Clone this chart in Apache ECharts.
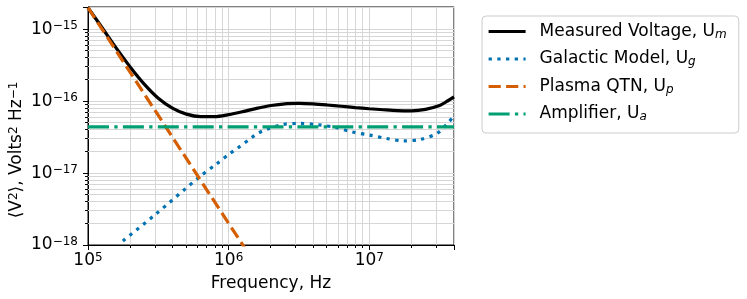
<!DOCTYPE html>
<html><head><meta charset="utf-8">
<script src="https://cdn.jsdelivr.net/npm/echarts@6/dist/echarts.min.js"></script>
<style>html,body{margin:0;padding:0;background:#fff}#c{width:747px;height:299px}</style>
</head><body><div id="c"></div>
<script>
const FONT = 'DejaVu Sans';
const Y_UNIT = 1e-18;           // values are plotted in units of 1e-18 V^2/Hz
const X_MIN = 1e5, X_MAX = 4e7;
const Y_MIN = 1e-18, Y_MAX = 2.04e-15;

// Measured Voltage, U_m
const measuredFreq = [1e5, 1.26e5, 1.58e5, 2e5, 2.51e5, 3.16e5, 3.98e5, 5.01e5, 6.31e5, 7.94e5, 1e6, 1.26e6, 1.58e6, 2e6, 2.51e6, 3.16e6, 3.98e6, 5.01e6, 6.31e6, 7.94e6, 1e7, 1.26e7, 1.58e7, 2e7, 2.51e7, 3.16e7, 3.55e7, 4e7];
const measuredVal = [2.0e-15, 1.05e-15, 5.55e-16, 2.97e-16, 1.73e-16, 1.1e-16, 8.0e-17, 6.6e-17, 6.1e-17, 6.1e-17, 6.5e-17, 7.15e-17, 7.95e-17, 8.7e-17, 9.2e-17, 9.3e-17, 9.15e-17, 8.85e-17, 8.5e-17, 8.15e-17, 7.85e-17, 7.6e-17, 7.4e-17, 7.35e-17, 7.7e-17, 8.7e-17, 9.9e-17, 1.15e-16];

// Galactic Model, U_g
const galacticFreq = [1.77e5, 3e5, 6.2e5, 8.2e5, 1.02e6, 1.15e6, 1.45e6, 1.64e6, 1.86e6, 2.43e6, 3.2e6, 4.3e6, 5.7e6, 7.5e6, 1.01e7, 1.33e7, 1.75e7, 2.3e7, 3.03e7, 3.7e7, 4e7];
const galacticVal = [1.14e-18, 2.64e-18, 8.85e-18, 1.34e-17, 1.87e-17, 2.2e-17, 3.09e-17, 3.63e-17, 4.05e-17, 4.75e-17, 4.9e-17, 4.7e-17, 4.32e-17, 3.75e-17, 3.37e-17, 3.03e-17, 2.8e-17, 2.94e-17, 3.56e-17, 5.2e-17, 6.4e-17];

// Plasma QTN, U_p
const plasmaFreq = [1e5, 1.3e6];
const plasmaVal = [2.0e-15, 9.1e-19];

// Amplifier, U_a
const ampFreq = [1e5, 4e7];
const ampVal = [4.4e-17, 4.4e-17];

// minor tick positions
const xMinorTicks = [2e5, 3e5, 4e5, 5e5, 6e5, 7e5, 8e5, 9e5, 2e6, 3e6, 4e6, 5e6, 6e6, 7e6, 8e6, 9e6, 2e7, 3e7, 4e7];
const yMinorTicks = [2e-18, 3e-18, 4e-18, 5e-18, 6e-18, 7e-18, 8e-18, 9e-18, 2e-17, 3e-17, 4e-17, 5e-17, 6e-17, 7e-17, 8e-17, 9e-17, 2e-16, 3e-16, 4e-16, 5e-16, 6e-16, 7e-16, 8e-16, 9e-16, 2e-15];

const seriesNames = ['Measured Voltage, U', 'Galactic Model, U', 'Plasma QTN, U', 'Amplifier, U'];
const seriesSubs = ['m', 'g', 'p', 'a'];
const colors = ['#000000', '#0072B2', '#D55E00', '#009E73'];

const GRID = '#d6d6d6';
const LW = 3.2;

function pairs(fs, vs) { return fs.map((f, i) => [f, vs[i] / Y_UNIT]); }

function powLabel(v, offset) {
  const e = Math.log10(v);
  const r = Math.round(e);
  if (Math.abs(e - r) > 1e-6) return '';
  const exp = r + offset;
  return '{b|10}{s|' + (exp < 0 ? '\u2212' + (-exp) : String(exp)) + '}';
}
const tickRich = {
  b: { fontFamily: FONT, fontSize: 17, lineHeight: 18, color: '#000' },
  s: { fontFamily: FONT, fontSize: 12, lineHeight: 10, verticalAlign: 'top', color: '#000' }
};

function snap(v) { return Math.round(v - 0.5) + 0.5; }

function renderMinorX(params, api) {
  const v = api.value(0);
  const top = api.coord([v, Y_MAX / Y_UNIT]);
  const bot = api.coord([v, Y_MIN / Y_UNIT]);
  const x = snap(top[0]);
  return { type: 'group', children: [
    { type: 'line', shape: { x1: x, y1: top[1], x2: x, y2: bot[1] }, style: { stroke: GRID, lineWidth: 1 } },
    { type: 'line', shape: { x1: x, y1: bot[1], x2: x, y2: bot[1] + 3 }, style: { stroke: '#000', lineWidth: 1 } }
  ]};
}
function renderMinorY(params, api) {
  const v = api.value(1);
  const l = api.coord([X_MIN, v]);
  const r = api.coord([X_MAX, v]);
  const y = snap(l[1]);
  return { type: 'group', children: [
    { type: 'line', shape: { x1: l[0], y1: y, x2: r[0], y2: y }, style: { stroke: GRID, lineWidth: 1 } },
    { type: 'line', shape: { x1: l[0] - 3, y1: y, x2: l[0], y2: y }, style: { stroke: '#000', lineWidth: 1 } }
  ]};
}

const dashes = ['solid', [3.3, 5.4], [12.2, 5.3], [21, 5.3, 3.3, 5.3]];
const dataSets = [pairs(measuredFreq, measuredVal), pairs(galacticFreq, galacticVal), pairs(plasmaFreq, plasmaVal), pairs(ampFreq, ampVal)];
const smoothness = [0.3, 0.3, false, false];

const lineSeries = seriesNames.map((n, i) => ({
  name: n, type: 'line', data: dataSets[i], symbol: 'none', showSymbol: false,
  smooth: smoothness[i], clip: true, z: 3, silent: true,
  lineStyle: { color: colors[i], width: LW, type: dashes[i], cap: 'butt' },
  itemStyle: { color: colors[i] }
}));

const chart = echarts.init(document.getElementById('c'), null, { renderer: 'canvas' });
chart.setOption({
  animation: false,
  backgroundColor: '#fff',
  grid: { left: 88, top: 7, width: 366, height: 238, show: true, borderColor: '#000', borderWidth: 1, backgroundColor: 'transparent' },
  xAxis: {
    type: 'log', logBase: 10, min: X_MIN, max: X_MAX,
    name: 'Frequency, Hz', nameLocation: 'middle', nameGap: 28,
    nameTextStyle: { fontFamily: FONT, fontSize: 17, color: '#000', lineHeight: 18 },
    axisLine: { show: true, lineStyle: { color: '#000', width: 1 } },
    axisTick: { show: true, inside: false, length: 5, lineStyle: { color: '#000', width: 1 } },
    axisLabel: { margin: 7, formatter: v => powLabel(v, 0), rich: tickRich, showMinLabel: true, showMaxLabel: true },
    splitLine: { show: true, lineStyle: { color: GRID, width: 1 } },
    minorTick: { show: false }, minorSplitLine: { show: false }
  },
  yAxis: {
    type: 'log', logBase: 10, min: Y_MIN / Y_UNIT, max: Y_MAX / Y_UNIT,
    name: '\u27E8V{s|2}\u27E9, Volts{s|2} Hz{s|\u22121}', nameLocation: 'middle', nameGap: 62, nameRotate: 90,
    nameTextStyle: {
      fontFamily: FONT, fontSize: 17, color: '#000', lineHeight: 18, padding: [0, 48, 0, 0],
      rich: { s: { fontFamily: FONT, fontSize: 12, lineHeight: 10, verticalAlign: 'top', color: '#000' } }
    },
    axisLine: { show: true, lineStyle: { color: '#000', width: 1 } },
    axisTick: { show: true, inside: false, length: 5, lineStyle: { color: '#000', width: 1 } },
    axisLabel: { margin: 10, formatter: v => powLabel(v, -18), rich: tickRich },
    splitLine: { show: true, lineStyle: { color: GRID, width: 1 } },
    minorTick: { show: false }, minorSplitLine: { show: false }
  },
  legend: {
    orient: 'vertical', left: 482, top: 16,
    padding: [7, 12, 10, 5], itemGap: 10, itemWidth: 37, itemHeight: 18,
    backgroundColor: '#fff', borderColor: '#cccccc', borderWidth: 1, borderRadius: 4,
    data: seriesNames,
    lineStyle: { width: LW },
    itemStyle: { color: 'rgba(0,0,0,0)', borderWidth: 0, opacity: 0 },
    formatter: name => '{b|' + name + '}{s|' + seriesSubs[seriesNames.indexOf(name)] + '}',
    textStyle: {
      fontFamily: FONT, fontSize: 17, color: '#000',
      rich: {
        b: { fontFamily: FONT, fontSize: 17, lineHeight: 18, color: '#000', padding: [0, 0, 0, 9] },
        s: { fontFamily: FONT, fontSize: 12, lineHeight: 8, verticalAlign: 'bottom', fontStyle: 'italic', color: '#000' }
      }
    }
  },
  series: [
    { type: 'custom', name: '_xminor', renderItem: renderMinorX, data: xMinorTicks.map(v => [v, Y_MIN / Y_UNIT]), clip: false, silent: true, z: 1 },
    { type: 'custom', name: '_yminor', renderItem: renderMinorY, data: yMinorTicks.map(v => [X_MIN, v / Y_UNIT]), clip: false, silent: true, z: 1 }
  ].concat(lineSeries)
});
</script></body></html>
